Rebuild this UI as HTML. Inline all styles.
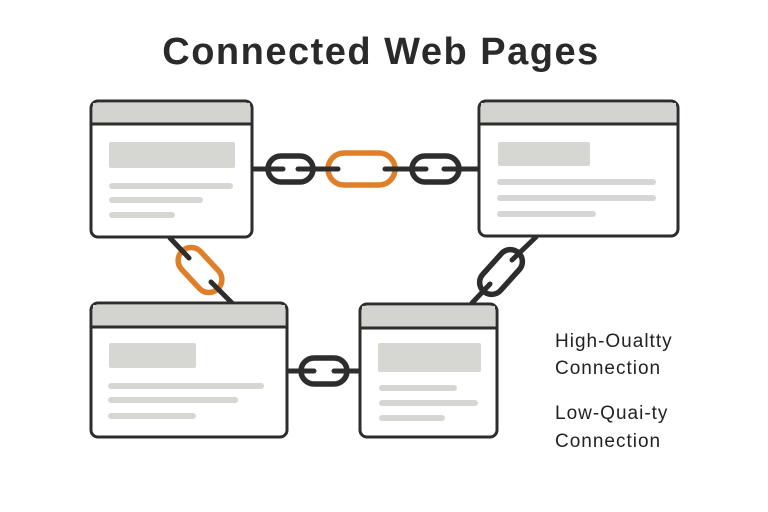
<!DOCTYPE html>
<html><head><style>body{margin:0;background:#fff}svg{display:block}</style></head><body>
<svg width="768" height="512" viewBox="0 0 768 512" xmlns="http://www.w3.org/2000/svg">
<rect width="768" height="512" fill="#fff"/>
<text x="381" y="64" text-anchor="middle" font-family="Liberation Sans, sans-serif" font-weight="bold" font-size="38" letter-spacing="1.5" fill="#2a2a2a">Connected Web Pages</text>
<g fill="#fff" stroke-width="5.5">
<rect x="268" y="156" width="45" height="26" rx="13" stroke="#2d2d2d"/>
<rect x="412" y="156" width="47" height="26" rx="13" stroke="#2d2d2d"/>
<rect x="328" y="153" width="67" height="32" rx="16" stroke="#e07f2a"/>
<rect x="301" y="358" width="46" height="26" rx="13" stroke="#2d2d2d"/>
<rect x="174" y="257" width="52" height="26" rx="13" stroke="#e07f2a" transform="rotate(47 200 270)"/>
<rect x="475" y="260" width="52" height="24" rx="12" stroke="#2d2d2d" transform="rotate(-48 501 272)"/>
</g>
<g stroke="#2d2d2d" stroke-width="5" stroke-linecap="round">
<line x1="252" y1="169" x2="283" y2="169"/>
<line x1="298" y1="169" x2="338" y2="169"/>
<line x1="385" y1="169" x2="426" y2="169"/>
<line x1="444" y1="169" x2="480" y2="169"/>
<line x1="170" y1="238" x2="189" y2="258"/>
<line x1="211" y1="282" x2="232" y2="303"/>
<line x1="536" y1="237" x2="512" y2="260"/>
<line x1="490" y1="284" x2="472" y2="303"/>
<line x1="289" y1="371" x2="314" y2="371"/>
<line x1="334" y1="371" x2="360" y2="371"/>
</g>
<g stroke="#2d2d2d" stroke-width="3">
<rect x="91" y="101" width="161" height="136" rx="7" fill="#fff"/>
<path d="M93 103 h157 v21 h-157z" fill="#d3d3cf" stroke="none"/>
<line x1="91" y1="124" x2="252" y2="124"/>
<rect x="479" y="101" width="199" height="135" rx="7" fill="#fff"/>
<path d="M481 103 h195 v21 h-195z" fill="#d3d3cf" stroke="none"/>
<line x1="479" y1="124" x2="678" y2="124"/>
<rect x="91" y="303" width="196" height="134" rx="7" fill="#fff"/>
<path d="M93 305 h192 v22 h-192z" fill="#d3d3cf" stroke="none"/>
<line x1="91" y1="327" x2="287" y2="327"/>
<rect x="360" y="304" width="137" height="133" rx="7" fill="#fff"/>
<path d="M362 306 h133 v22 h-133z" fill="#d3d3cf" stroke="none"/>
<line x1="360" y1="328" x2="497" y2="328"/>
</g>
<g fill="#d6d6d2">
<rect x="109" y="142" width="126" height="26" rx="2"/>
<rect x="109" y="183" width="124" height="6" rx="3"/><rect x="109" y="197" width="94" height="6" rx="3"/><rect x="109" y="212" width="66" height="6" rx="3"/>
<rect x="498" y="142" width="92" height="24" rx="2"/>
<rect x="497" y="179" width="159" height="6" rx="3"/><rect x="497" y="195" width="159" height="6" rx="3"/><rect x="497" y="211" width="99" height="6" rx="3"/>
<rect x="109" y="343" width="87" height="25" rx="2"/>
<rect x="108" y="383" width="156" height="6" rx="3"/><rect x="108" y="397" width="130" height="6" rx="3"/><rect x="108" y="413" width="88" height="6" rx="3"/>
<rect x="378" y="343" width="103" height="29" rx="2"/>
<rect x="379" y="385" width="78" height="6" rx="3"/><rect x="379" y="400" width="99" height="6" rx="3"/><rect x="379" y="415" width="66" height="6" rx="3"/>
</g>
<g font-family="Liberation Sans, sans-serif" font-size="19" letter-spacing="1" fill="#222">
<text x="555" y="347">High‑Oualtty</text>
<text x="555" y="374">Connection</text>
<text x="555" y="419">Low‑Quai‑ty</text>
<text x="555" y="447">Connection</text>
</g>
</svg>
</body></html>
